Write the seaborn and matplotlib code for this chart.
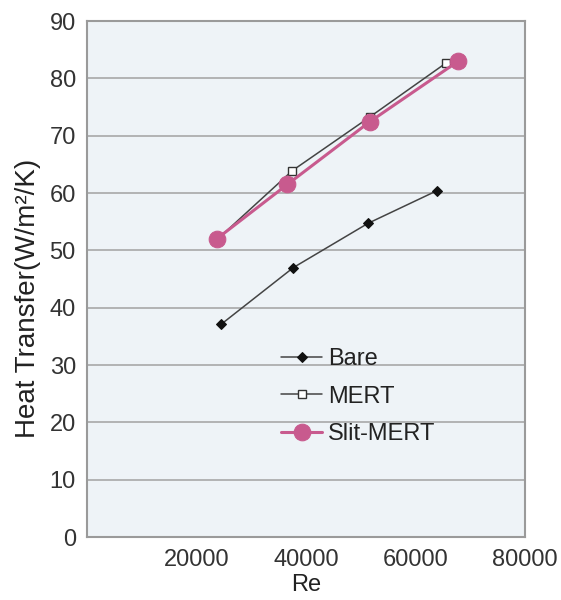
import pandas as pd
import matplotlib
matplotlib.use("Agg")
import matplotlib.pyplot as plt
import seaborn as sns

# data
bare_re = [24500, 37700, 51300, 63900]
bare_h = [37.1, 47.0, 54.7, 60.4]
mert_re = [23900, 37500, 51700, 65600]
mert_h = [52.0, 63.9, 73.3, 82.7]
slit_re = [23700, 36600, 51600, 67800]
slit_h = [52.0, 61.5, 72.4, 83.0]

sns.set_style("white")
plt.rcParams['font.family'] = ['Liberation Sans', 'DejaVu Sans']

fig, ax = plt.subplots(figsize=(5.61, 6.0), dpi=100)
fig.subplots_adjust(left=0.155, right=0.936, top=0.965, bottom=0.105)
ax.set_facecolor('#eef3f7')

df_bare = pd.DataFrame({'Re': bare_re, 'H': bare_h})
df_mert = pd.DataFrame({'Re': mert_re, 'H': mert_h})
df_slit = pd.DataFrame({'Re': slit_re, 'H': slit_h})

sns.lineplot(data=df_bare, x='Re', y='H', ax=ax, color='#444444', lw=1.1,
             marker='D', markersize=5, markerfacecolor='#111111',
             markeredgecolor='#111111', label='Bare')
sns.lineplot(data=df_mert, x='Re', y='H', ax=ax, color='#444444', lw=1.1,
             marker='s', markersize=6, markerfacecolor='white',
             markeredgecolor='#333333', markeredgewidth=1, label='MERT')
sns.lineplot(data=df_slit, x='Re', y='H', ax=ax, color='#c85a8e', lw=2.2,
             marker='o', markersize=12, markerfacecolor='#c85a8e',
             markeredgecolor='#c85a8e', label='Slit-MERT')

ax.set_xlim(0, 80000)
ax.set_ylim(0, 90)
ax.set_xticks([20000, 40000, 60000, 80000])
ax.set_yticks(range(0, 91, 10))
ax.yaxis.grid(True, color='#a8a8a8', lw=1.2)
ax.xaxis.grid(False)
ax.tick_params(axis='x', direction='in', length=6, color='#999999',
               labelsize=17, labelcolor='#333333', pad=9)
ax.tick_params(axis='y', length=0, labelsize=17, labelcolor='#333333', pad=8)
for s in ax.spines.values():
    s.set_color('#9a9a9a')
    s.set_linewidth(1.5)

ax.set_xlabel('Re', fontsize=17, color='#222222', labelpad=2)
ax.set_ylabel('Heat Transfer(W/m²/K)', fontsize=20, color='#222222')
ax.yaxis.set_label_coords(-0.105, 0.463)

leg = ax.legend(loc='upper left', bbox_to_anchor=(0.443, 0.366), frameon=False,
                fontsize=17, handlelength=1.75, handletextpad=0.25,
                labelspacing=0.66, borderpad=0, borderaxespad=0)
for t in leg.get_texts():
    t.set_color('#222222')

fig.savefig('out.png', dpi=100)
